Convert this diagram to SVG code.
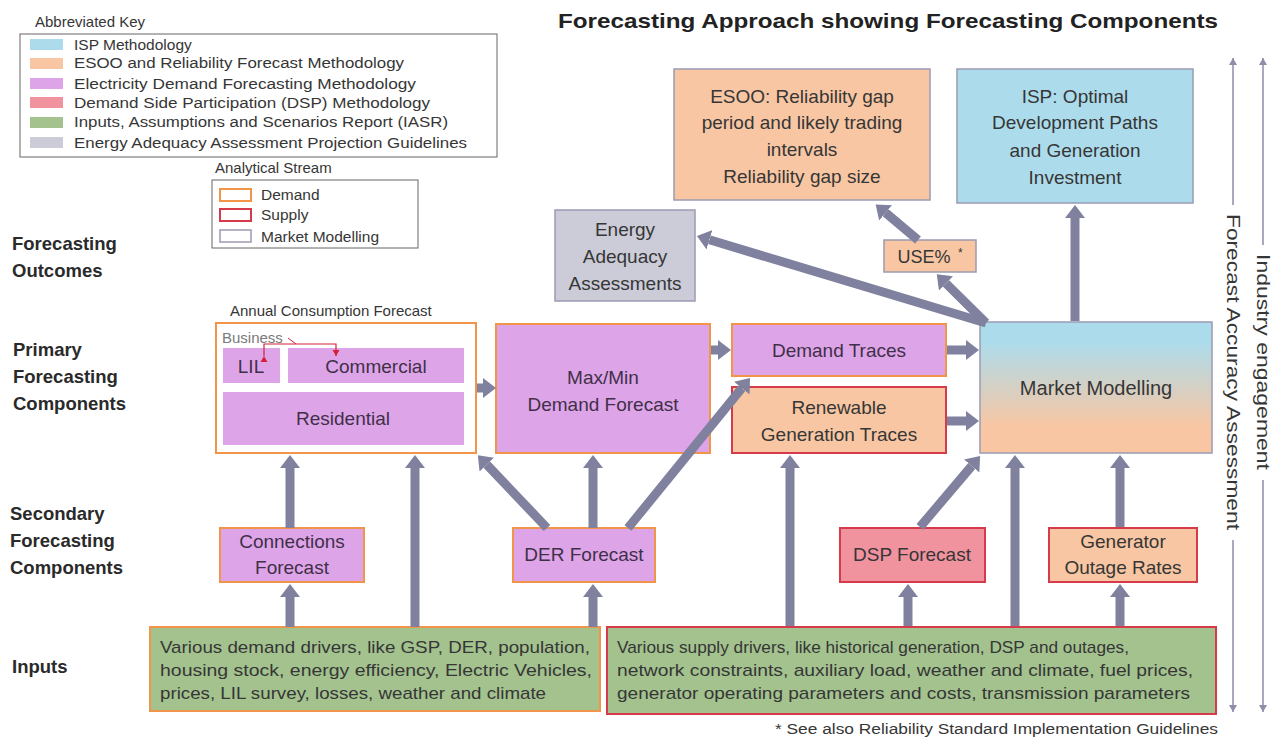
<svg xmlns="http://www.w3.org/2000/svg" width="1285" height="740" viewBox="0 0 1285 740">
<style>
text{font-family:"Liberation Sans",Arial,sans-serif;fill:#363636}
.lbl{font-weight:bold;font-size:18.5px;fill:#2a2a2a}
.key{font-size:15.5px}
.bx{font-size:19px;text-anchor:middle}
.pt{fill:#3f3048}
.inp{font-size:17px}
.purple{fill:#dea4e8;stroke:#f0954a;stroke-width:2}
.orange{fill:#f8c6a3;stroke:#9b9bb3;stroke-width:1.5}
.orangeR{fill:#f8c6a3;stroke:#d63b4c;stroke-width:2}
.blue{fill:#acdcec;stroke:#9b9bb3;stroke-width:1.5}
.gray{fill:#cbccd8;stroke:#9b9bb3;stroke-width:1.5}
.dsp{fill:#f1929f;stroke:#d63b4c;stroke-width:2}
.greenO{fill:#a3c28e;stroke:#f0954a;stroke-width:2}
.greenR{fill:#a3c28e;stroke:#d63b4c;stroke-width:2}
.conn line{stroke:#7f819e;stroke-width:9;marker-end:url(#ah)}
.side{stroke:#8e8eaa;stroke-width:1.5;fill:none}
</style>
<defs>
<marker id="ah" markerUnits="userSpaceOnUse" markerWidth="14" markerHeight="20" refX="0" refY="10" orient="auto">
<path d="M0,0 L13,10 L0,20 z" fill="#7f819e"/>
</marker>
<marker id="sa" markerUnits="userSpaceOnUse" markerWidth="8" markerHeight="10" refX="7" refY="5" orient="auto">
<path d="M0,1 L7,5 L0,9 z" fill="#8e8eaa"/>
</marker>
<marker id="ra" markerUnits="userSpaceOnUse" markerWidth="8" markerHeight="8" refX="6" refY="4" orient="auto">
<path d="M0,0.5 L6,4 L0,7.5 z" fill="#d6203a"/>
</marker>
<linearGradient id="mmg" x1="0" y1="0" x2="0" y2="1">
<stop offset="0" stop-color="#acdcec"/>
<stop offset="0.15" stop-color="#acdcec"/>
<stop offset="0.8" stop-color="#f8c6a3"/>
<stop offset="1" stop-color="#f8c6a3"/>
</linearGradient>
</defs>
<rect width="1285" height="740" fill="#ffffff"/>

<!-- Title -->
<text x="888" y="28" text-anchor="middle" style="font-weight:bold;font-size:21px;fill:#222" textLength="660" lengthAdjust="spacingAndGlyphs">Forecasting Approach showing Forecasting Components</text>

<!-- Key -->
<g id="key">
<text x="35" y="27" style="font-size:15px">Abbreviated Key</text>
<rect x="20" y="34" width="477" height="123" fill="none" stroke="#666" stroke-width="1"/>
<rect x="30" y="39" width="33" height="11" fill="#acdcec"/>
<rect x="30" y="58" width="33" height="11" fill="#f8c6a3"/>
<rect x="30" y="78" width="33" height="11" fill="#dea4e8"/>
<rect x="30" y="97" width="33" height="11" fill="#f1929f"/>
<rect x="30" y="117" width="33" height="11" fill="#a3c28e"/>
<rect x="30" y="137" width="33" height="11" fill="#cbccd8"/>
<text class="key" x="74" y="50">ISP Methodology</text>
<text class="key" x="74" y="68" textLength="330" lengthAdjust="spacingAndGlyphs">ESOO and Reliability Forecast Methodology</text>
<text class="key" x="74" y="89" textLength="342" lengthAdjust="spacingAndGlyphs">Electricity Demand Forecasting Methodology</text>
<text class="key" x="74" y="108" textLength="356" lengthAdjust="spacingAndGlyphs">Demand Side Participation (DSP) Methodology</text>
<text class="key" x="74" y="127" textLength="374" lengthAdjust="spacingAndGlyphs">Inputs, Assumptions and Scenarios Report (IASR)</text>
<text class="key" x="74" y="148" textLength="393" lengthAdjust="spacingAndGlyphs">Energy Adequacy Assessment Projection Guidelines</text>
</g>
<g id="stream">
<text x="215" y="173" style="font-size:15px">Analytical Stream</text>
<rect x="212" y="180" width="206" height="68" fill="none" stroke="#666" stroke-width="1"/>
<rect x="220" y="189" width="31" height="12" fill="none" stroke="#f0954a" stroke-width="2"/>
<rect x="220" y="209" width="31" height="12" fill="none" stroke="#d63b4c" stroke-width="2"/>
<rect x="220" y="230" width="31" height="12" fill="none" stroke="#9b9bb3" stroke-width="1.5"/>
<text class="key" x="261" y="200">Demand</text>
<text class="key" x="261" y="220">Supply</text>
<text class="key" x="261" y="242">Market Modelling</text>
</g>

<!-- Row labels -->
<g id="row-labels">
<text class="lbl" x="12" y="250">Forecasting</text>
<text class="lbl" x="12" y="277">Outcomes</text>
<text class="lbl" x="13" y="356">Primary</text>
<text class="lbl" x="13" y="383">Forecasting</text>
<text class="lbl" x="13" y="410">Components</text>
<text class="lbl" x="10" y="520">Secondary</text>
<text class="lbl" x="10" y="547">Forecasting</text>
<text class="lbl" x="10" y="574">Components</text>
<text class="lbl" x="12" y="673">Inputs</text>
</g>

<!-- Outcomes -->
<g id="esoo">
<rect class="orange" x="674" y="69" width="256" height="131"/>
<text class="bx" x="802" y="103">ESOO: Reliability gap</text>
<text class="bx" x="802" y="129">period and likely trading</text>
<text class="bx" x="802" y="156">intervals</text>
<text class="bx" x="802" y="183">Reliability gap size</text>
</g>
<g id="isp">
<rect class="blue" x="957" y="69" width="236" height="134"/>
<text class="bx" x="1075" y="103">ISP: Optimal</text>
<text class="bx" x="1075" y="129">Development Paths</text>
<text class="bx" x="1075" y="157">and Generation</text>
<text class="bx" x="1075" y="184">Investment</text>
</g>
<g id="eaa">
<rect class="gray" x="555" y="210" width="140" height="91"/>
<text class="bx" x="625" y="236">Energy</text>
<text class="bx" x="625" y="263">Adequacy</text>
<text class="bx" x="625" y="290">Assessments</text>
</g>
<g id="use">
<rect class="orange" x="884" y="240" width="92" height="32"/>
<text class="bx" x="924" y="263" style="font-size:18px">USE%</text>
<text x="958" y="257" style="font-size:12px">*</text>
</g>

<!-- Primary -->
<g id="annual">
<text x="230" y="316" style="font-size:15px">Annual Consumption Forecast</text>
<rect x="216" y="323" width="260" height="130" fill="#ffffff" stroke="#f0954a" stroke-width="2"/>
<rect x="223" y="348" width="57" height="35" fill="#dea4e8"/>
<rect x="288" y="348" width="176" height="35" fill="#dea4e8"/>
<rect x="223" y="392" width="241" height="53" fill="#dea4e8"/>
<text x="222" y="343" style="font-size:15px;fill:#7a7a7a">Business</text>
<path d="M288,338 L296,344" fill="none" stroke="#d6203a" stroke-width="1"/>
<path d="M264,356 V344 H336 V356" fill="none" stroke="#d6203a" stroke-width="1.2" marker-start="url(#ra)" marker-end="url(#ra)"/>
<text class="bx pt" x="251" y="373">LIL</text>
<text class="bx pt" x="376" y="373">Commercial</text>
<text class="bx pt" x="343" y="425">Residential</text>
</g>
<g id="maxmin">
<rect class="purple" x="496" y="324" width="214" height="129"/>
<text class="bx pt" x="603" y="384">Max/Min</text>
<text class="bx pt" x="603" y="411">Demand Forecast</text>
</g>
<g id="demand-traces">
<rect class="purple" x="732" y="324" width="214" height="52"/>
<text class="bx pt" x="839" y="357">Demand Traces</text>
</g>
<g id="renewable">
<rect class="orangeR" x="732" y="387" width="214" height="66"/>
<text class="bx" x="839" y="414">Renewable</text>
<text class="bx" x="839" y="441">Generation Traces</text>
</g>
<g id="market">
<rect x="980" y="322" width="232" height="131" fill="url(#mmg)" stroke="#9b9bb3" stroke-width="1.5"/>
<text class="bx" x="1096" y="395" style="font-size:20px">Market Modelling</text>
</g>

<!-- Secondary -->
<g id="connections">
<rect class="purple" x="220" y="528" width="144" height="54"/>
<text class="bx pt" x="292" y="548">Connections</text>
<text class="bx pt" x="292" y="574">Forecast</text>
</g>
<g id="der">
<rect class="purple" x="513" y="528" width="142" height="54"/>
<text class="bx pt" x="584" y="561">DER Forecast</text>
</g>
<g id="dsp">
<rect class="dsp" x="840" y="528" width="145" height="54"/>
<text class="bx" x="912" y="561">DSP Forecast</text>
</g>
<g id="outage">
<rect class="orangeR" x="1049" y="528" width="148" height="54"/>
<text class="bx" x="1123" y="548">Generator</text>
<text class="bx" x="1123" y="574">Outage Rates</text>
</g>

<!-- Inputs -->
<g id="demand-inputs">
<rect class="greenO" x="150" y="627" width="450" height="84"/>
<text class="inp" x="160" y="653" textLength="430" lengthAdjust="spacingAndGlyphs">Various demand drivers, like GSP, DER, population,</text>
<text class="inp" x="160" y="676" textLength="432" lengthAdjust="spacingAndGlyphs">housing stock, energy efficiency, Electric Vehicles,</text>
<text class="inp" x="160" y="699" textLength="386" lengthAdjust="spacingAndGlyphs">prices, LIL survey, losses, weather and climate</text>
</g>
<g id="supply-inputs">
<rect class="greenR" x="607" y="627" width="609" height="87"/>
<text class="inp" x="617" y="653" textLength="512" lengthAdjust="spacingAndGlyphs">Various supply drivers, like historical generation, DSP and outages,</text>
<text class="inp" x="617" y="676" textLength="576" lengthAdjust="spacingAndGlyphs">network constraints, auxiliary load, weather and climate, fuel prices,</text>
<text class="inp" x="617" y="699" textLength="573" lengthAdjust="spacingAndGlyphs">generator operating parameters and costs, transmission parameters</text>
</g>
<text x="775" y="734" style="font-size:14px" textLength="443" lengthAdjust="spacingAndGlyphs">*  See also Reliability Standard Implementation Guidelines</text>

<!-- Connectors -->
<g id="connectors" class="conn">
<line x1="290" y1="528" x2="290" y2="468"/>
<line x1="290" y1="627" x2="290" y2="597"/>
<line x1="415" y1="627" x2="415" y2="468"/>
<line x1="547" y1="528" x2="486.8" y2="464.6"/>
<line x1="593" y1="528" x2="593" y2="468"/>
<line x1="628" y1="528" x2="741.8" y2="388.1"/>
<line x1="593" y1="627" x2="593" y2="597"/>
<line x1="477" y1="388" x2="483" y2="388"/>
<line x1="711" y1="350" x2="718" y2="350"/>
<line x1="947" y1="350" x2="966" y2="350"/>
<line x1="947" y1="421" x2="966" y2="421"/>
<line x1="790" y1="626" x2="790" y2="468"/>
<line x1="920" y1="527" x2="971.7" y2="466"/>
<line x1="908" y1="626" x2="908" y2="597"/>
<line x1="1015" y1="626" x2="1015" y2="468"/>
<line x1="1120" y1="527" x2="1120" y2="468"/>
<line x1="1120" y1="626" x2="1120" y2="597"/>
<line x1="986" y1="323" x2="709.4" y2="239.8"/>
<line x1="986" y1="323" x2="946" y2="283.4"/>
<line x1="918" y1="240" x2="885.6" y2="212.8"/>
<line x1="1075" y1="321" x2="1075" y2="218"/>
</g>

<!-- Side axes -->
<g id="forecast-accuracy">
<line class="side" x1="1233" y1="205" x2="1233" y2="58" marker-end="url(#sa)"/>
<line class="side" x1="1233" y1="540" x2="1233" y2="712" marker-end="url(#sa)"/>
<text x="1233" y="372" transform="rotate(90 1233 372)" text-anchor="middle" dominant-baseline="central" style="font-size:19px" textLength="316" lengthAdjust="spacingAndGlyphs">Forecast Accuracy Assessment</text>
</g>
<g id="industry">
<line class="side" x1="1263" y1="245" x2="1263" y2="58" marker-end="url(#sa)"/>
<line class="side" x1="1263" y1="480" x2="1263" y2="712" marker-end="url(#sa)"/>
<text x="1263" y="362" transform="rotate(90 1263 362)" text-anchor="middle" dominant-baseline="central" style="font-size:19px" textLength="216" lengthAdjust="spacingAndGlyphs">Industry engagement</text>
</g>
</svg>
